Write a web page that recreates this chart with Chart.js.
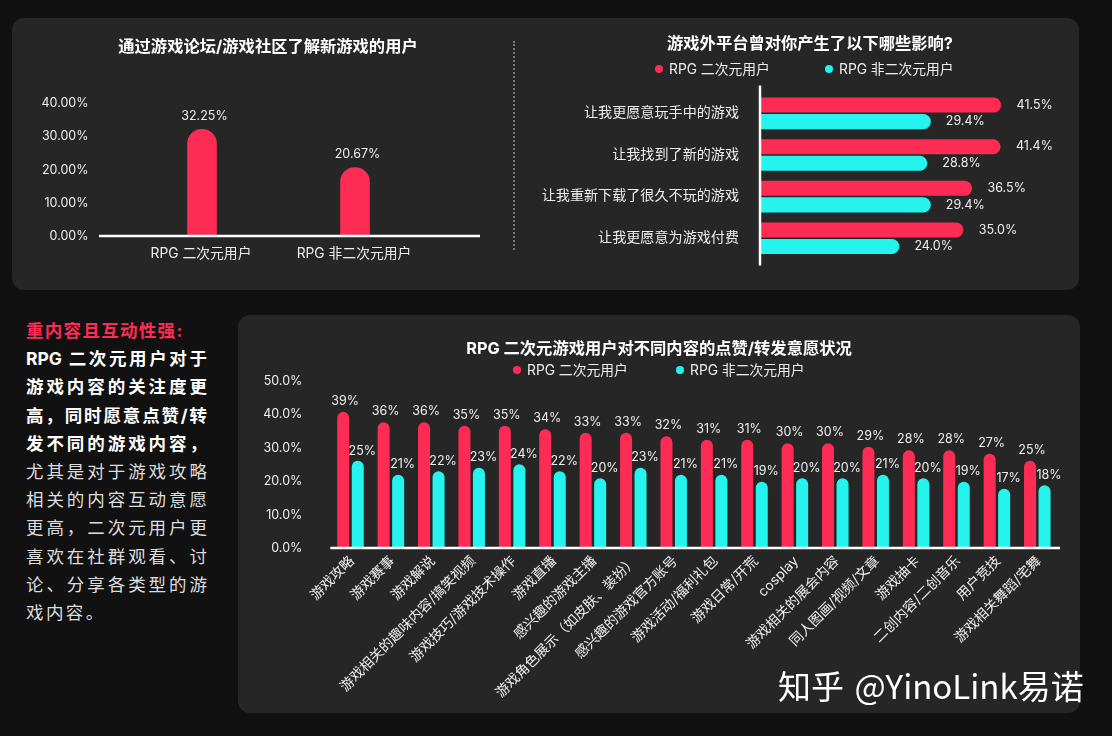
<!DOCTYPE html>
<html lang="zh">
<head>
<meta charset="utf-8">
<title>RPG 二次元用户</title>
<script src="https://cdn.jsdelivr.net/npm/chart.js@4"></script>
<style>
  html, body { margin: 0; padding: 0; background: #111111; }
  body { width: 1112px; height: 736px; position: relative; overflow: hidden; font-family: Inter, "Noto Sans CJK SC", sans-serif; color: #fff; }
  .card { position: absolute; background: #262626; border-radius: 12px; }
  #cardTop { left: 12px; top: 18px; width: 1067px; height: 272px; }
  #cardBottom { left: 238px; top: 315px; width: 842px; height: 398px; }
  canvas { position: absolute; }
  #forumChart { left: 12px; top: 18px; }
  #effectChart { left: 540px; top: 18px; }
  #contentChart { left: 238px; top: 315px; }
  #divider { position: absolute; left: 513px; top: 41px; height: 209px; border-left: 2px dotted #777; }
  .legend { position: absolute; font-size: 13.8px; color: #eee; white-space: nowrap; line-height: 16px; }
  .legend i { position: absolute; left: -14px; top: 4px; width: 8px; height: 8px; border-radius: 50%; }
  #note { position: absolute; left: 26px; top: 317px; width: 181px; font-size: 17.5px; line-height: 28.2px; color: #ddd; }
  #note div { text-align: justify; text-align-last: justify; white-space: nowrap; }
  #note .head { color: #fe2c55; font-weight: 700; text-align-last: left; letter-spacing: 1.3px; }
  #note .strong { color: #fff; font-weight: 700; }
  #note .end { text-align-last: left; letter-spacing: 2.4px; }
  #mark { position: absolute; left: 778px; top: 663px; font-size: 33px; line-height: 44px; word-spacing: 3px; font-family: "Noto Sans CJK SC", sans-serif; white-space: nowrap; }
</style>
</head>
<body>
<div class="card" id="cardTop"></div>
<div class="card" id="cardBottom"></div>
<div id="divider"></div>
<canvas id="forumChart" width="512" height="272"></canvas>
<canvas id="effectChart" width="540" height="272"></canvas>
<canvas id="contentChart" width="842" height="398"></canvas>
<div id="legends"></div>
<div id="note"></div>
<div id="mark">知乎 @YinoLink易诺</div>

<script>
const PINK = '#fe2c55';
const CYAN = '#25f4ee';
const FONT = 'Inter, "Noto Sans CJK SC", sans-serif';

const seriesNames = ['RPG 二次元用户', 'RPG 非二次元用户'];

// 左上：游戏论坛/社区
const forumTitle = '通过游戏论坛/游戏社区了解新游戏的用户';
const forumValues = [32.25, 20.67];

// 右上：游戏外平台的影响
const effectTitle = '游戏外平台曾对你产生了以下哪些影响?';
const effectLabels = ['让我更愿意玩手中的游戏', '让我找到了新的游戏', '让我重新下载了很久不玩的游戏', '让我更愿意为游戏付费'];
const effectAcg = [41.5, 41.4, 36.5, 35.0];
const effectOther = [29.4, 28.8, 29.4, 24.0];

// 下方：点赞/转发意愿
const contentTitle = 'RPG 二次元游戏用户对不同内容的点赞/转发意愿状况';
const contentLabels = ['游戏攻略', '游戏赛事', '游戏解说', '游戏相关的趣味内容/搞笑视频', '游戏技巧/游戏技术操作', '游戏直播',
  '感兴趣的游戏主播', '游戏角色展示（如皮肤、装扮）', '感兴趣的游戏官方账号', '游戏活动/福利礼包', '游戏日常/开荒', 'cosplay',
  '游戏相关的展会内容', '同人图画/视频/文章', '游戏抽卡', '二创内容/二创音乐', '用户竞技', '游戏相关舞蹈/宅舞'];
const contentAcg = [39, 36, 36, 35, 35, 34, 33, 33, 32, 31, 31, 30, 30, 29, 28, 28, 27, 25];
const contentOther = [25, 21, 22, 23, 24, 22, 20, 23, 21, 21, 19, 20, 20, 21, 20, 19, 17, 18];

const noteLines = [
  ['head', '重内容且互动性强:'],
  ['strong', 'RPG 二次元用户对于'],
  ['strong', '游戏内容的关注度更'],
  ['strong', '高，同时愿意点赞/转'],
  ['strong', '发不同的游戏内容，'],
  ['', '尤其是对于游戏攻略'],
  ['', '相关的内容互动意愿'],
  ['', '更高，二次元用户更'],
  ['', '喜欢在社群观看、讨'],
  ['', '论、分享各类型的游'],
  ['end', '戏内容。']
];

Chart.defaults.animation = false;
Chart.defaults.responsive = false;
Chart.defaults.font.family = FONT;
Chart.defaults.color = '#eeeeee';
Chart.defaults.plugins.legend.display = false;
Chart.defaults.plugins.tooltip.enabled = false;

// 数值标签，offsets 是每个系列相对柱端的偏移
const valueLabels = {
  id: 'valueLabels',
  afterDatasetsDraw(chart, args, opts) {
    const ctx = chart.ctx;
    ctx.save();
    ctx.font = opts.size + 'px ' + FONT;
    ctx.fillStyle = '#eeeeee';
    ctx.textAlign = opts.align || 'center';
    ctx.textBaseline = 'middle';
    chart.data.datasets.forEach((ds, i) => {
      chart.getDatasetMeta(i).data.forEach((bar, j) => {
        ctx.fillText(opts.format(ds.data[j]), bar.x + opts.offsets[i][0], bar.y + opts.offsets[i][1]);
      });
    });
    ctx.restore();
  }
};

// 白色轴线，比绘图区略长
const axisLine = {
  id: 'axisLine',
  afterDatasetsDraw(chart, args, opts) {
    const { ctx, chartArea: a } = chart;
    ctx.save();
    ctx.strokeStyle = '#ffffff';
    ctx.lineWidth = 2.5;
    ctx.beginPath();
    if (opts.vertical) {
      ctx.moveTo(a.left, a.top - opts.before);
      ctx.lineTo(a.left, a.bottom + opts.after);
    } else {
      ctx.moveTo(a.left - opts.before, a.bottom);
      ctx.lineTo(a.right + opts.after, a.bottom);
    }
    ctx.stroke();
    ctx.restore();
  }
};

// 标题按整张画布居中，不受右侧 padding 影响
const centerTitle = {
  id: 'centerTitle',
  afterLayout(chart) {
    chart.titleBlock.left = 0;
    chart.titleBlock.right = chart.width;
  }
};

function titleOptions(text, size, top, bottom) {
  return { display: true, text: text, color: '#ffffff', font: { size: size, weight: '700' }, padding: { top: top, bottom: bottom } };
}

new Chart(document.getElementById('forumChart'), {
  type: 'bar',
  data: {
    labels: seriesNames,
    datasets: [{ data: forumValues, backgroundColor: PINK, barThickness: 29, borderRadius: 14.5 }]
  },
  options: {
    layout: { padding: { right: 92.5 } },
    scales: {
      x: {
        grid: { display: false }, border: { display: false },
        ticks: { font: { size: 13.8 }, padding: 2, labelOffset: -1 },
        afterFit(s) { s.height = 54; }
      },
      y: {
        min: 0, max: 40,
        grid: { display: false }, border: { display: false },
        ticks: { stepSize: 10, padding: 29, font: { size: 12.5 }, callback: v => v.toFixed(2) + '%' },
        afterFit(s) { s.width = 113.5; }
      }
    },
    plugins: {
      title: titleOptions(forumTitle, 16.3, 19, 47),
      valueLabels: { size: 12.5, offsets: [[2.5, -13]], format: v => v.toFixed(2) + '%' },
      axisLine: { before: 26.5, after: 48.5 }
    }
  },
  plugins: [valueLabels, axisLine, centerTitle]
});

new Chart(document.getElementById('effectChart'), {
  type: 'bar',
  data: {
    labels: effectLabels,
    datasets: [
      { label: seriesNames[0], data: effectAcg, backgroundColor: PINK },
      { label: seriesNames[1], data: effectOther, backgroundColor: CYAN }
    ]
  },
  options: {
    indexAxis: 'y',
    datasets: { bar: { categoryPercentage: 0.795, barPercentage: 0.91, borderRadius: 7.5 } },
    layout: { padding: { right: 29.5, bottom: 31 } },
    scales: {
      x: { display: false, min: 0, max: 50 },
      y: {
        grid: { display: false }, border: { display: false },
        ticks: { font: { size: 14.1 }, padding: 13, labelOffset: -0.5 },
        afterFit(s) { s.width = 220; }
      }
    },
    plugins: {
      title: titleOptions(effectTitle, 16.3, 16, 39),
      valueLabels: { size: 12.5, align: 'left', offsets: [[15.5, 0], [15, 0]], format: v => v.toFixed(1) + '%' },
      axisLine: { vertical: true, before: 7, after: 6.5 }
    }
  },
  plugins: [valueLabels, axisLine, centerTitle]
});

new Chart(document.getElementById('contentChart'), {
  type: 'bar',
  data: {
    labels: contentLabels,
    datasets: [
      { label: seriesNames[0], data: contentAcg, backgroundColor: PINK, yAxisID: 'yBars' },
      { label: seriesNames[1], data: contentOther, backgroundColor: CYAN, yAxisID: 'yBars' }
    ]
  },
  options: {
    datasets: { bar: { categoryPercentage: 0.718, barPercentage: 0.828, borderRadius: 6 } },
    layout: { padding: { right: 22.5 } },
    scales: {
      x: {
        grid: { display: false }, border: { display: false },
        ticks: { font: { size: 13.8 }, autoSkip: false, minRotation: 45, maxRotation: 45, padding: -3, labelOffset: 1.5 },
        afterFit(s) { s.height = 165; }
      },
      y: {
        min: 0, max: 50,
        grid: { display: false }, border: { display: false },
        ticks: { stepSize: 10, padding: 20, font: { size: 12.5 }, labelOffset: 0.7, callback: v => v.toFixed(1) + '%' },
        afterFit(s) { s.width = 92.3; }
      },
      // 原图柱高与刻度不完全对应，柱子用单独的隐藏刻度
      yBars: { display: false, min: 0, max: 48 }
    },
    plugins: {
      title: titleOptions(contentTitle, 16.3, 24, 21.9),
      valueLabels: { size: 12.5, offsets: [[2, -11], [4.5, -10]], format: v => v + '%' },
      axisLine: { before: 0, after: 2.5 }
    }
  },
  plugins: [valueLabels, axisLine, centerTitle]
});

// 图例用 HTML，两项之间的间距比内置图例好控制
function addLegend(x1, x2, y) {
  [x1, x2].forEach((x, i) => {
    const el = document.createElement('div');
    el.className = 'legend';
    el.style.left = x + 'px';
    el.style.top = y + 'px';
    el.innerHTML = '<i style="background:' + (i ? CYAN : PINK) + '"></i>' + seriesNames[i];
    document.getElementById('legends').appendChild(el);
  });
}
addLegend(669, 839, 61);
addLegend(527, 690, 362);

noteLines.forEach(([cls, text]) => {
  const line = document.createElement('div');
  line.className = cls;
  line.textContent = text;
  document.getElementById('note').appendChild(line);
});
</script>
</body>
</html>
